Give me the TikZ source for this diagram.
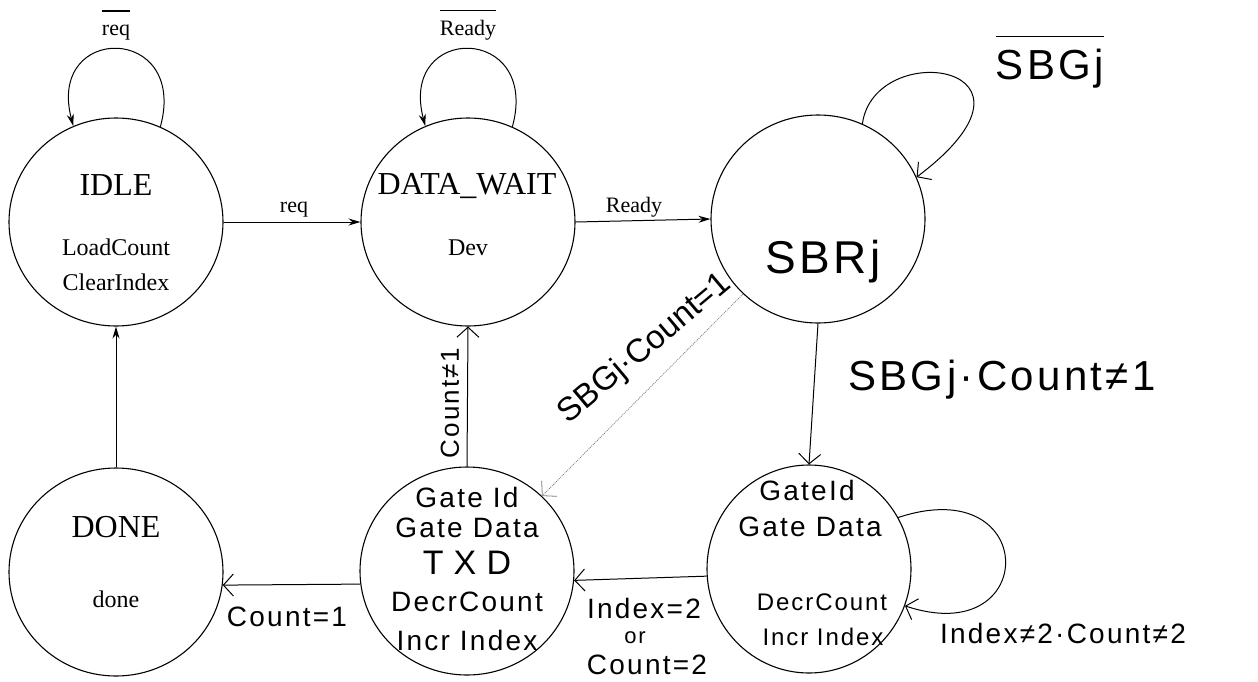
\documentclass[tikz,border=0pt]{standalone}
\usepackage{fontspec}
\setmainfont{Liberation Serif}
\newfontfamily\hand[LetterSpace=8]{Liberation Sans}
\newfontfamily\handplain{Liberation Sans}
\usetikzlibrary{arrows.meta,shapes.geometric}
\newcommand\ovl[2]{\vbox{\hrule height 1.2pt\kern#1\hbox{\vphantom{Ry}#2}}}
\begin{document}
\begin{tikzpicture}[x=1pt,y=-1pt,
  state/.style={draw,ellipse,line width=1.1pt,minimum width=214pt,minimum height=208pt,inner sep=0pt},
  pr/.style={-{Stealth[length=12pt,width=7pt]},line width=1pt},
  hw/.style={-{Straight Barb[length=10pt,width=22pt]},line width=1pt},
  ttl/.style={anchor=base,font=\fontsize{32}{36}\selectfont},
  sub/.style={anchor=base,font=\fontsize{24}{28}\selectfont},
  lbl/.style={anchor=base,font=\fontsize{22}{26}\selectfont},
  hnd/.style={inner sep=0pt,font=\hand\fontsize{#1}{#1}\selectfont},
  hndp/.style={inner sep=0pt,font=\handplain\fontsize{#1}{#1}\selectfont},
]
\useasboundingbox (0,0) rectangle (1258,681);
% states
\node[state] (idle) at (116,222) {};
\node[state] (dw) at (468,222) {};
\node[state] (sbr) at (818,219) {};
\node[state] (done) at (116,572) {};
\node[state] (gate) at (467,571) {};
\node[state,minimum width=204pt] (gate2) at (809,569) {};
% printed texts
\node[ttl] (idlet) at (116,195) {IDLE};
\node[sub] (idle1) at (116,255) {LoadCount};
\node[sub] (idle2) at (116,290) {ClearIndex};
\node[ttl] (dwt) at (467,194) {DATA\_WAIT};
\node[sub] (dwdev) at (468,255) {Dev};
\node[ttl] (donet) at (116,537) {DONE};
\node[sub] (done1) at (116,607) {done};
% printed loops and arrows
\node[lbl] (reqbar) at (116,35) {\ovl{9pt}{req}};
\node[lbl] (rdybar) at (468,35) {\ovl{9pt}{Ready}};
\draw[pr] (idle.65) .. controls +(28,-103) and +(-27,-103) .. (idle.114);
\draw[pr] (dw.65) .. controls +(28,-103) and +(-27,-103) .. (dw.114);
\draw[pr] (idle.east) -- (dw.west);
\node[lbl] (reqlab) at (294,212) {req};
\draw[pr] (dw.east) -- (sbr.west);
\node[lbl] (rdylab) at (634,212) {Ready};
\draw[pr] (done) -- (idle);
% hand-drawn
\node[hnd=46] (sbrt) at (823,262) {SBRj};
\draw[hw] (sbr.65) .. controls +(12,-87) and +(150,-113) .. (sbr.23);
\node[hnd=42] (sbgbar) at (1050,62) {\ovl{12pt}{SBGj}};
\draw[hw] (sbr.south) -- (gate2.north);
\node[hnd=42] (sbgc) at (1002,380) {SBGj·Count≠1};
\draw[hw,densely dotted,gray,line width=0.8pt] (sbr.225) -- (gate.45);
\node[hndp=33,rotate=40] (sbgc1) at (645,349) {SBGj·Count=1};
\draw[hw] (gate.north) -- (dw.south);
\node[hnd=26,rotate=90] (c1) at (450,403) {Count≠1};
\draw[hw] (gate2.184) -- (gate.355);
\node[hnd=28] (ix1) at (644,608) {Index=2};
\node[hnd=22] (ixor) at (635,638) {or};
\node[hnd=28] (ix2) at (647,665) {Count=2};
\draw[hw] (gate.187) -- (done.353);
\node[hnd=28] (cnt1) at (287,617) {Count=1};
\draw[hw] (gate2.30) .. controls +(142,-47) and +(135,45) .. (gate2.339);
\node[hnd=28] (ix3) at (1063,633) {Index≠2·Count≠2};
% texts in hand-drawn states
\node[hnd=28] (g1) at (467,497) {Gate Id};
\node[hnd=28] (g2) at (467,528) {Gate Data};
\node[hnd=34] (g3) at (467,563) {\addfontfeature{LetterSpace=30}TXD};
\node[hnd=28] (g4) at (467,602) {DecrCount};
\node[hnd=28] (g5) at (467,640) {Incr Index};
\node[hnd=28] (h1) at (807,490) {GateId};
\node[hnd=28] (h2) at (810,527) {Gate Data};
\node[hnd=24] (h3) at (822,602) {DecrCount};
\node[hnd=24] (h4) at (823,637) {Incr Index};
\end{tikzpicture}
\end{document}
